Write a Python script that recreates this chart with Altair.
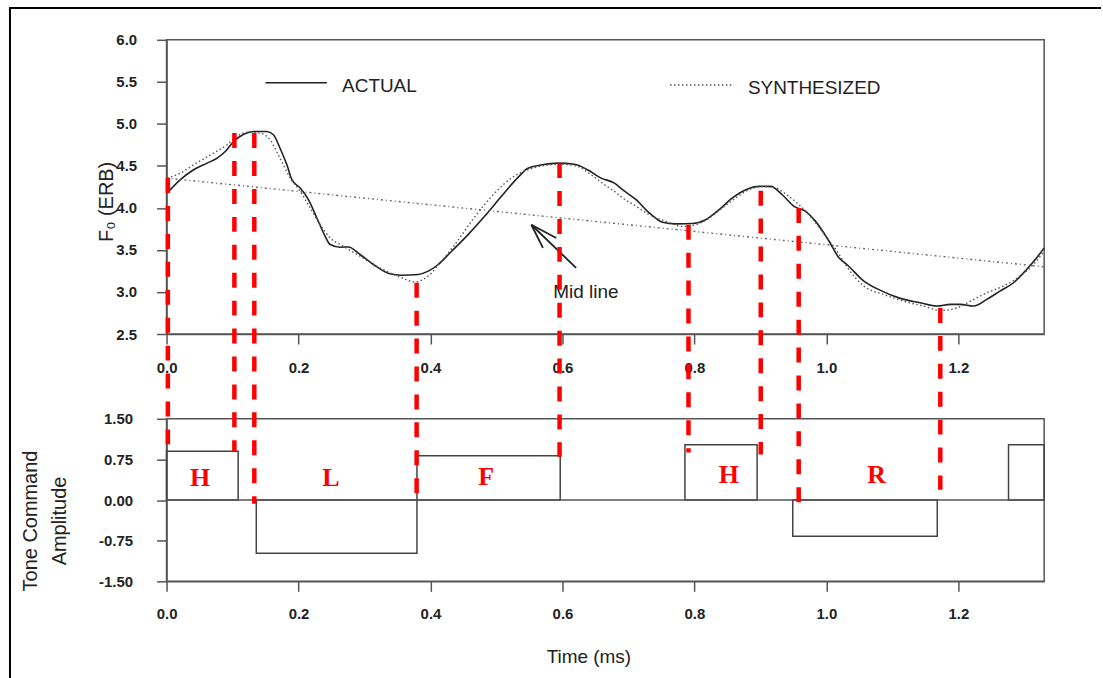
import altair as alt
import pandas as pd

# ---------------- data ----------------
actual_t = [0.001, 0.021, 0.041, 0.0615, 0.0766, 0.089, 0.1018, 0.117, 0.132, 0.152, 0.162, 0.172,
            0.1825, 0.19, 0.2026, 0.215, 0.2278, 0.2404, 0.248, 0.263, 0.2756, 0.2933, 0.3134, 0.3386,
            0.356, 0.3815, 0.3966, 0.4117, 0.432, 0.457, 0.482, 0.5075, 0.5326, 0.5477, 0.568, 0.593,
            0.618, 0.638, 0.6585, 0.6788, 0.691, 0.7115, 0.7317, 0.7518, 0.772, 0.797, 0.817, 0.8375,
            0.8576, 0.878, 0.898, 0.9156, 0.933, 0.951, 0.9685, 0.9836, 1.004, 1.019, 1.031, 1.0567,
            1.082, 1.112, 1.142, 1.1675, 1.1877, 1.203, 1.223, 1.243, 1.263, 1.2835, 1.3035, 1.3187, 1.33]
actual_f0 = [4.177, 4.336, 4.454, 4.533, 4.592, 4.671, 4.79, 4.877, 4.909, 4.909, 4.87, 4.71,
             4.51, 4.336, 4.236, 4.098, 3.88, 3.663, 3.565, 3.533, 3.536, 3.446, 3.327, 3.216,
             3.20, 3.209, 3.248, 3.327, 3.485, 3.683, 3.9, 4.138, 4.363, 4.473, 4.51, 4.533,
             4.52, 4.454, 4.355, 4.295, 4.217, 4.098, 3.94, 3.83, 3.81, 3.814, 3.86, 3.98,
             4.12, 4.217, 4.256, 4.256, 4.157, 4.019, 3.96, 3.84, 3.604, 3.406, 3.327, 3.13,
             3.019, 2.924, 2.872, 2.833, 2.853, 2.853, 2.833, 2.912, 3.01, 3.11, 3.268, 3.406, 3.525]

synth_t = [0.001, 0.021, 0.041, 0.0665, 0.0917, 0.1069, 0.122, 0.142, 0.157, 0.172, 0.1875, 0.2026,
           0.2177, 0.2328, 0.248, 0.268, 0.2933, 0.3185, 0.3386, 0.356, 0.376, 0.3966, 0.4168, 0.437,
           0.462, 0.482, 0.5024, 0.5226, 0.5477, 0.573, 0.598, 0.623, 0.6435, 0.6637, 0.6788, 0.691,
           0.7115, 0.7317, 0.757, 0.782, 0.802, 0.8224, 0.8425, 0.8627, 0.883, 0.903, 0.923, 0.943,
           0.958, 0.9735, 0.9937, 1.019, 1.031, 1.0567, 1.087, 1.117, 1.147, 1.1727, 1.1977, 1.218,
           1.243, 1.268, 1.2935, 1.3137, 1.33]
synth_f0 = [4.355, 4.414, 4.513, 4.632, 4.751, 4.85, 4.90, 4.889, 4.81, 4.59, 4.355, 4.197,
            4.0, 3.80, 3.643, 3.544, 3.426, 3.307, 3.228, 3.17, 3.12, 3.19, 3.367, 3.565,
            3.84, 4.04, 4.217, 4.355, 4.454, 4.505, 4.52, 4.493, 4.395, 4.276, 4.197, 4.12,
            4.02, 3.92, 3.84, 3.78, 3.80, 3.88, 4.0, 4.12, 4.217, 4.256, 4.236, 4.138,
            4.04, 3.92, 3.72, 3.45, 3.30, 3.07, 2.97, 2.89, 2.833, 2.78, 2.81, 2.89,
            2.99, 3.07, 3.19, 3.327, 3.485]

mid_t = [0.0, 1.33]
mid_f0 = [4.355, 3.30]

# tone commands
cmd_start = [0.0, 0.136, 0.3795, 0.7856, 0.949, 1.276]
cmd_end = [0.1085, 0.3795, 0.5966, 0.895, 1.168, 1.33]
cmd_amp = [0.90, -0.98, 0.82, 1.02, -0.67, 1.02]

tone_labels = ["H", "L", "F", "H", "R"]
tone_label_t = [0.051, 0.249, 0.4845, 0.852, 1.076]
tone_label_amp = [0.40, 0.40, 0.43, 0.47, 0.47]

# red dashed markers (time, F0 at top end, amplitude at bottom end)
marker_t = [0.002, 0.1028, 0.133, 0.379, 0.5956, 0.791, 0.9005, 0.958, 1.1726]
marker_top_f0 = [4.355, 4.89, 4.89, 3.11, 4.533, 3.80, 4.205, 4.0, 2.81]
marker_bottom_amp = [1.02, 0.90, -0.07, 0.10, 0.80, 0.88, 0.84, -0.05, 0.19]

# legend and annotation
legend_names = ["ACTUAL", "SYNTHESIZED"]
legend_line_t0 = [0.15, 0.763]
legend_line_t1 = [0.243, 0.856]
legend_line_f0 = [5.49, 5.463]
legend_text_t = [0.266, 0.881]
legend_text_f0 = [5.454, 5.43]

arrow_t0 = [0.6207, 0.5528, 0.5528]
arrow_f00 = [3.287, 3.80, 3.80]
arrow_t1 = [0.5528, 0.5704, 0.5906]
arrow_f01 = [3.80, 3.524, 3.643]
midline_text = ["Mid line"]
midline_text_t = [0.586]
midline_text_f0 = [3.0]

x_ticks = [0.0, 0.2, 0.4, 0.6, 0.8, 1.0, 1.2]
f0_ticks = [2.5, 3.0, 3.5, 4.0, 4.5, 5.0, 5.5, 6.0]
amp_ticks = [-1.5, -0.75, 0.0, 0.75, 1.5]

# ---------------- layout ----------------
W, TOP_H, BOT_H, GAP = 880, 295, 163, 85
T_DOM = [0.0, 1.33]
F0_DOM = [2.5, 6.0]
AMP_DOM = [-1.5, 1.5]
INK = "#222"
AX = "#555"
FONT = "Liberation Sans"

xs = alt.Scale(domain=T_DOM, nice=False, zero=False)
fs = alt.Scale(domain=F0_DOM, nice=False, zero=False)
ams = alt.Scale(domain=AMP_DOM, nice=False, zero=False)

x_axis_top = alt.Axis(values=x_ticks, format=".1f", title=None, tickSize=10, labelPadding=17,
                      labelFlush=False, labelOverlap=False)
x_axis_bot = alt.Axis(values=x_ticks, format=".1f", title="Time (ms)", tickSize=10, labelPadding=15,
                      labelFlush=False, labelOverlap=False, titleFontSize=19, titleX=423, titleY=81,
                      titleBaseline="alphabetic")
f_axis = alt.Axis(values=f0_ticks, format=".1f", title="F₀ (ERB)", tickSize=10, labelPadding=20,
                  titleFontSize=20, titleX=-54, titleY=162, titleBaseline="alphabetic")
a_axis = alt.Axis(values=amp_ticks, labelExpr="replace(format(datum.value, '.2f'), '−', '-')",
                  title=["Tone Command", "Amplitude"], tickSize=10, labelPadding=24,
                  titleFontSize=20, titleX=-130, titleY=102, titleBaseline="alphabetic",
                  titleLineHeight=29)

one = pd.DataFrame({"k": [0]})

# frame of the whole figure (bounds + visible left/top border)
bounds_rect = alt.Chart(one).mark_rect(opacity=0).encode(
    x=alt.value(-166), x2=alt.value(W + 57), y=alt.value(-38), y2=alt.value(640))
frame_left = alt.Chart(one).mark_rule(color="black", strokeWidth=2).encode(
    x=alt.value(-157), y=alt.value(-32), y2=alt.value(640))
frame_top = alt.Chart(one).mark_rule(color="black", strokeWidth=2).encode(
    x=alt.value(-158), x2=alt.value(W + 57), y=alt.value(-32))

actual_df = pd.DataFrame({"t": actual_t, "f0": actual_f0})
synth_df = pd.DataFrame({"t": synth_t, "f0": synth_f0})
mid_df = pd.DataFrame({"t": mid_t, "f0": mid_f0})

actual_line = alt.Chart(actual_df).mark_line(color=INK, strokeWidth=1.6, interpolate="monotone").encode(
    x=alt.X("t:Q", scale=xs, axis=x_axis_top),
    y=alt.Y("f0:Q", scale=fs, axis=f_axis))
synth_line = alt.Chart(synth_df).mark_line(color="#555", strokeWidth=1.4, strokeDash=[1.5, 2.5],
                                           interpolate="monotone").encode(x="t:Q", y="f0:Q")
mid_line = alt.Chart(mid_df).mark_line(color="#666", strokeWidth=1.4, strokeDash=[2, 3, 1, 3]).encode(
    x="t:Q", y="f0:Q")

leg_df = pd.DataFrame({"name": legend_names, "t0": legend_line_t0, "t1": legend_line_t1,
                       "f0": legend_line_f0, "tt": legend_text_t, "tf": legend_text_f0})
leg_solid = alt.Chart(leg_df.iloc[[0]]).mark_rule(color=INK, strokeWidth=1.4).encode(
    x="t0:Q", x2="t1:Q", y="f0:Q")
leg_dot = alt.Chart(leg_df.iloc[[1]]).mark_rule(color="#555", strokeWidth=1.4, strokeDash=[1.5, 2.5]).encode(
    x="t0:Q", x2="t1:Q", y="f0:Q")
leg_text = alt.Chart(leg_df).mark_text(align="left", baseline="middle", font=FONT, fontSize=19,
                                       color=INK).encode(x="tt:Q", y="tf:Q", text="name:N")

arrow_df = pd.DataFrame({"t0": arrow_t0, "f00": arrow_f00, "t1": arrow_t1, "f01": arrow_f01})
arrow = alt.Chart(arrow_df).mark_rule(color=INK, strokeWidth=1.8).encode(
    x="t0:Q", x2="t1:Q", y="f00:Q", y2="f01:Q")
mid_text_df = pd.DataFrame({"label": midline_text, "t": midline_text_t, "f0": midline_text_f0})
mid_text = alt.Chart(mid_text_df).mark_text(align="left", baseline="middle", font=FONT, fontSize=19,
                                            color=INK).encode(x="t:Q", y="f0:Q", text="label:N")

top = alt.layer(actual_line, bounds_rect, frame_left, frame_top, mid_line, synth_line,
                leg_solid, leg_dot, leg_text, arrow, mid_text).properties(width=W, height=TOP_H)

# ---------------- bottom panel ----------------
cmd_df = pd.DataFrame({"s": cmd_start, "e": cmd_end, "a": cmd_amp, "z": [0.0] * len(cmd_amp)})
boxes = alt.Chart(cmd_df).mark_rect(fillOpacity=0, stroke="#444", strokeWidth=1.5).encode(
    x=alt.X("s:Q", scale=xs, axis=x_axis_bot),
    x2="e:Q",
    y=alt.Y("a:Q", scale=ams, axis=a_axis),
    y2="z:Q")
zero_df = pd.DataFrame({"t0": [T_DOM[0]], "t1": [T_DOM[1]], "a": [0.0]})
zero_line = alt.Chart(zero_df).mark_rule(color="#555", strokeWidth=1.5).encode(
    x="t0:Q", x2="t1:Q", y="a:Q")

lab_df = pd.DataFrame({"label": tone_labels, "t": tone_label_t, "a": tone_label_amp})
labels = alt.Chart(lab_df).mark_text(font="Liberation Serif", fontWeight="bold", fontSize=26,
                                     color="#ff0000", baseline="middle").encode(
    x="t:Q", y="a:Q", text="label:N")

# red markers span both panels: convert their top F0 into the bottom panel's amplitude units
amp_per_px = (AMP_DOM[1] - AMP_DOM[0]) / BOT_H
f0_px = TOP_H / (F0_DOM[1] - F0_DOM[0])
red_df = pd.DataFrame({"t": marker_t, "f0": marker_top_f0, "a_end": marker_bottom_amp})
red_df["a_top"] = AMP_DOM[1] + (GAP + (red_df["f0"] - F0_DOM[0]) * f0_px) * amp_per_px
red = alt.Chart(red_df).mark_rule(color="#ff0000", strokeWidth=4.5, strokeDash=[15, 13]).encode(
    x="t:Q", y="a_top:Q", y2="a_end:Q")

bottom = alt.layer(boxes, zero_line, labels, red).properties(width=W, height=BOT_H)

chart = alt.vconcat(top, bottom, spacing=GAP, bounds="flush").properties(
    padding=0, background="white"
).configure_view(stroke=AX, strokeWidth=1.5).configure_axis(
    grid=False, domainColor=AX, tickColor=AX, domainWidth=1.5, tickWidth=1.5,
    labelFont=FONT, labelFontSize=15, labelFontWeight="bold", labelColor=INK,
    titleFont=FONT, titleColor=INK, titleFontWeight="normal"
)

chart.save("out.html", embed_options={"renderer": "svg", "actions": False})
